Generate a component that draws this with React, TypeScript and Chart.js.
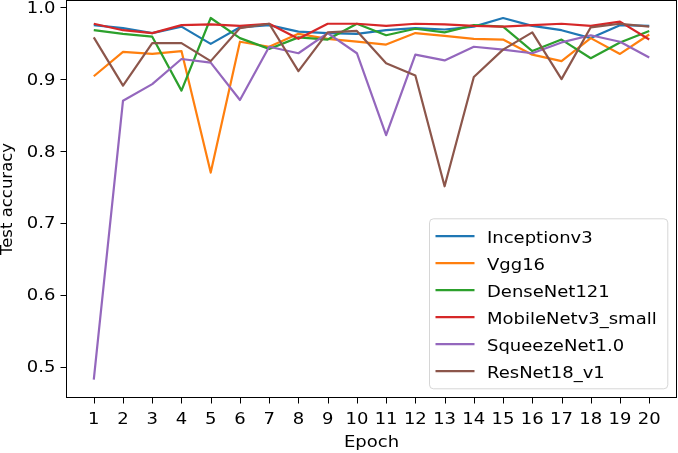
import React, { useEffect, useRef } from "react";
import { Chart, registerables } from "chart.js";

Chart.register(...registerables);

// ---- data ----
const epochs = [1, 2, 3, 4, 5, 6, 7, 8, 9, 10, 11, 12, 13, 14, 15, 16, 17, 18, 19, 20];
const yTickValues = [0.5, 0.6, 0.7, 0.8, 0.9, 1.0];
const seriesNames = ["Inceptionv3", "Vgg16", "DenseNet121", "MobileNetv3_small", "SqueezeNet1.0", "ResNet18_v1"];

const inceptionv3 = [0.975, 0.971, 0.964, 0.973, 0.949, 0.972, 0.975, 0.966, 0.964, 0.963, 0.968, 0.971, 0.969, 0.973, 0.985, 0.974, 0.968, 0.957, 0.975, 0.974];
const vgg16 = [0.904, 0.938, 0.935, 0.939, 0.770, 0.952, 0.945, 0.963, 0.956, 0.952, 0.948, 0.964, 0.960, 0.956, 0.955, 0.934, 0.925, 0.957, 0.935, 0.962];
const denseNet121 = [0.968, 0.963, 0.959, 0.884, 0.985, 0.957, 0.942, 0.958, 0.955, 0.977, 0.961, 0.970, 0.965, 0.975, 0.973, 0.939, 0.955, 0.929, 0.951, 0.967];
const mobileNetv3Small = [0.977, 0.968, 0.964, 0.975, 0.976, 0.974, 0.977, 0.956, 0.977, 0.977, 0.974, 0.977, 0.976, 0.974, 0.973, 0.975, 0.977, 0.974, 0.980, 0.955];
const squeezeNet10 = [0.482, 0.870, 0.893, 0.928, 0.923, 0.871, 0.945, 0.936, 0.964, 0.936, 0.822, 0.934, 0.926, 0.945, 0.941, 0.936, 0.951, 0.961, 0.952, 0.930];
const resNet18v1 = [0.958, 0.891, 0.950, 0.950, 0.925, 0.971, 0.977, 0.911, 0.965, 0.967, 0.922, 0.905, 0.751, 0.903, 0.941, 0.965, 0.900, 0.972, 0.977, 0.973];

const colors = ["#1f77b4", "#ff7f0e", "#2ca02c", "#d62728", "#9467bd", "#8c564b"];

export default function App() {
  const ref = useRef<HTMLCanvasElement>(null);

  useEffect(() => {
    document.body.style.margin = "0";
    const canvas = ref.current!;
    const seriesValues = [inceptionv3, vgg16, denseNet121, mobileNetv3Small, squeezeNet10, resNet18v1];
    const n = seriesNames.length;

    const FONT = '"DejaVu Sans", sans-serif';
    const SX = 1.2;

    const drawText = (c: CanvasRenderingContext2D, s: string, x: number, y: number, align: CanvasTextAlign, size = 15, sx = SX) => {
      c.save();
      c.translate(x, y);
      c.scale(sx, 1);
      c.font = `${size}px ${FONT}`;
      c.fillStyle = "#000";
      c.textAlign = align;
      c.textBaseline = "alphabetic";
      c.fillText(s, 0, 0);
      c.restore();
    };

    const overlay = {
      id: "overlay",
      afterDatasetsDraw(chart: any) {
        const c: CanvasRenderingContext2D = chart.ctx;
        const a = chart.chartArea;
        const xs = chart.scales.x;
        const ys = chart.scales.y;
        c.save();
        c.strokeStyle = "#000";
        c.lineWidth = 1;
        // frame
        c.strokeRect(a.left + 0.5, a.top + 0.5, a.right - a.left - 1, a.bottom - a.top - 1);
        // ticks
        c.beginPath();
        epochs.forEach((e) => {
          const px = Math.round(xs.getPixelForValue(e)) + 0.5;
          c.moveTo(px, a.bottom - 0.5);
          c.lineTo(px, a.bottom + 5.5);
        });
        yTickValues.forEach((v) => {
          const py = Math.round(ys.getPixelForValue(v)) + 0.5;
          c.moveTo(a.left + 0.5, py);
          c.lineTo(a.left - 5.5, py);
        });
        c.stroke();
        c.restore();

        // tick labels
        epochs.forEach((e) => {
          drawText(c, String(e), xs.getPixelForValue(e), a.bottom + 26.3, "center");
        });
        yTickValues.forEach((v) => {
          drawText(c, v.toFixed(1), a.left - 10.5, ys.getPixelForValue(v) + 5.5, "right");
        });
        // axis titles
        drawText(c, "Epoch", (a.left + a.right) / 2, a.bottom + 48.7, "center");
        c.save();
        c.translate(12.4, (a.top + a.bottom) / 2);
        c.rotate(-Math.PI / 2);
        c.font = `16.5px ${FONT}`;
        c.fillStyle = "#000";
        c.textAlign = "center";
        c.textBaseline = "alphabetic";
        c.fillText("Test accuracy", 0, 0);
        c.restore();
      },
      afterDraw(chart: any) {
        const c: CanvasRenderingContext2D = chart.ctx;
        const a = chart.chartArea;
        const w = 238.3;
        const h = 170;
        const inset = 9.2;
        const x0 = a.right - inset - w;
        const y0 = a.bottom - inset - h;
        const r = 4;
        c.save();
        c.beginPath();
        c.moveTo(x0 + r, y0);
        c.lineTo(x0 + w - r, y0);
        c.arcTo(x0 + w, y0, x0 + w, y0 + r, r);
        c.lineTo(x0 + w, y0 + h - r);
        c.arcTo(x0 + w, y0 + h, x0 + w - r, y0 + h, r);
        c.lineTo(x0 + r, y0 + h);
        c.arcTo(x0, y0 + h, x0, y0 + h - r, r);
        c.lineTo(x0, y0 + r);
        c.arcTo(x0, y0, x0 + r, y0, r);
        c.closePath();
        c.fillStyle = "rgba(255,255,255,0.8)";
        c.fill();
        c.strokeStyle = "rgba(204,204,204,0.8)";
        c.lineWidth = 1;
        c.stroke();
        seriesNames.forEach((name, i) => {
          const ly = y0 + 17.4 + i * 27;
          c.beginPath();
          c.strokeStyle = colors[i];
          c.lineWidth = 2.2;
          c.moveTo(x0 + 6, ly);
          c.lineTo(x0 + 45, ly);
          c.stroke();
          drawText(c, name, x0 + 57.5, ly + 6.8, "left");
        });
        c.restore();
      },
    };

    const chart = new Chart(canvas, {
      type: "line",
      data: {
        datasets: seriesNames.map((name, i) => ({
          label: name,
          data: epochs.map((e, j) => ({ x: e, y: seriesValues[i][j] })),
          borderColor: colors[i],
          backgroundColor: colors[i],
          borderWidth: 2.2,
          borderJoinStyle: "round" as const,
          pointRadius: 0,
          pointHoverRadius: 0,
          tension: 0,
          fill: false,
          order: n - 1 - i,
        })),
      },
      options: {
        animation: false,
        responsive: false,
        devicePixelRatio: 1,
        layout: { padding: { left: 0, right: 1, top: 0, bottom: 0 } },
        plugins: { legend: { display: false }, tooltip: { enabled: false } },
        events: [],
        scales: {
          x: {
            type: "linear",
            min: 0.05,
            max: 20.95,
            grid: { display: false },
            border: { display: false },
            ticks: { display: false },
            afterBuildTicks: (s: any) => {
              s.ticks = epochs.map((v) => ({ value: v }));
            },
            afterFit: (s: any) => {
              s.height = 55;
              s.paddingLeft = 0;
              s.paddingRight = 0;
              s.paddingTop = 0;
              s.paddingBottom = 0;
            },
          },
          y: {
            type: "linear",
            min: 0.4566,
            max: 1.01,
            grid: { display: false },
            border: { display: false },
            ticks: { display: false },
            afterBuildTicks: (s: any) => {
              s.ticks = yTickValues.map((v) => ({ value: v }));
            },
            afterFit: (s: any) => {
              s.width = 66;
              s.paddingLeft = 0;
              s.paddingRight = 0;
              s.paddingTop = 0;
              s.paddingBottom = 0;
            },
          },
        },
      },
      plugins: [overlay],
    });

    return () => chart.destroy();
  }, []);

  return (
    <div style={{ position: "absolute", left: 0, top: 0, width: 678, height: 453 }}>
      <canvas ref={ref} width={678} height={453} />
    </div>
  );
}
